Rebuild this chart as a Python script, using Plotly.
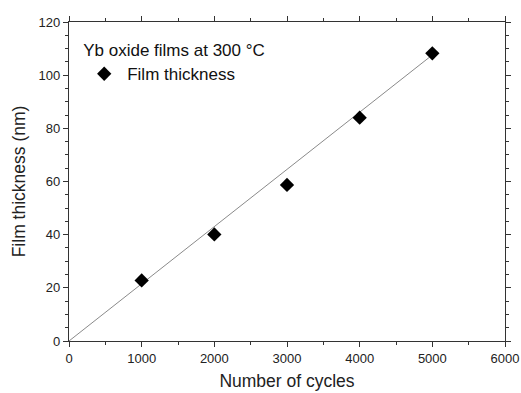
import plotly.graph_objects as go

cycles = [1000, 2000, 3000, 4000, 5000]
thickness = [22.8, 40.1, 58.7, 84.0, 108.2]
fit_cycles = [0, 5000]
fit_thickness = [0, 107.6]
x_ticks = [0, 1000, 2000, 3000, 4000, 5000, 6000]
y_ticks = [0, 20, 40, 60, 80, 100, 120]

font_family = "Liberation Sans, Arial, sans-serif"

fig = go.Figure()
fig.add_trace(go.Scatter(
    x=fit_cycles, y=fit_thickness, mode="lines",
    line=dict(color="#8a8a8a", width=1), showlegend=False, hoverinfo="skip"))
fig.add_trace(go.Scatter(
    x=cycles, y=thickness, mode="markers", name="Film thickness",
    marker=dict(symbol="diamond", size=11, color="black")))

axis_common = dict(
    showgrid=False, zeroline=False, showline=True, linecolor="#333", linewidth=1.2,
    mirror="allticks", ticks="outside", ticklen=5, tickwidth=1.2, tickcolor="#333",
    tickfont=dict(family=font_family, size=13, color="#222"), automargin=False,
)

fig.update_xaxes(
    range=[0, 6000], tickvals=x_ticks,
    minor=dict(ticks="outside", ticklen=3, dtick=500, tickcolor="#333", tickwidth=1),
    title=dict(text="Number of cycles", font=dict(family=font_family, size=17.5, color="#222"), standoff=10),
    **axis_common)
fig.update_yaxes(
    range=[0, 120], tickvals=y_ticks,
    minor=dict(ticks="outside", ticklen=3, dtick=5, tickcolor="#333", tickwidth=1),
    title=dict(text="Film thickness (nm)", font=dict(family=font_family, size=17.5, color="#222"), standoff=8),
    **axis_common)

fig.update_layout(
    width=521, height=393,
    margin=dict(l=69, r=16, t=22, b=52),
    plot_bgcolor="white", paper_bgcolor="white",
    legend=dict(
        x=0.028, y=0.962, xanchor="left", yanchor="top",
        bgcolor="rgba(0,0,0,0)",
        title=dict(text="Yb oxide films at 300 °C", font=dict(family=font_family, size=17, color="#111")),
        font=dict(family=font_family, size=17, color="#111"),
        itemwidth=36, tracegroupgap=0,
    ),
)

fig.write_html(
    "out.html",
    config={"displayModeBar": False},
    post_script="document.body.style.margin='0px';document.body.style.overflow='hidden';",
)
